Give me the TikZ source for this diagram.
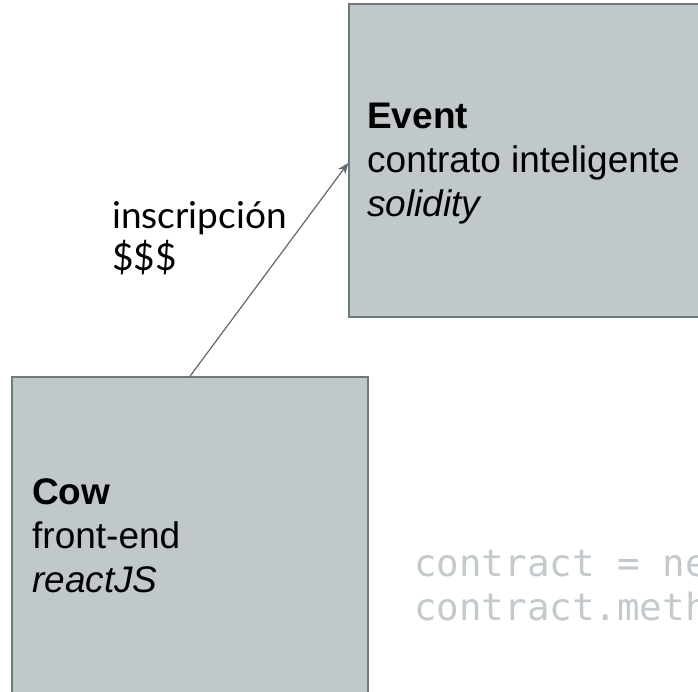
\documentclass[tikz,border=0pt]{standalone}
\usepackage{fontspec}
\setmainfont{Liberation Sans}
\newfontfamily\latofont{Lato}
\newfontfamily\codefont{DejaVu Sans Mono}
\usetikzlibrary{arrows.meta}
\definecolor{boxfill}{HTML}{C0C8CB}
\definecolor{boxline}{HTML}{6E7B7E}
\definecolor{arrowcol}{HTML}{5F6B6D}
\definecolor{codecol}{HTML}{C3CACD}
\tikzset{
  box/.style={draw=boxline, fill=boxfill, line width=1.6pt, minimum width=356pt, minimum height=313pt, inner sep=0pt},
  boxtext/.style={anchor=base west, align=left, inner sep=0pt, font=\fontsize{37}{44}\selectfont},
  label/.style={anchor=base west, align=left, inner sep=0pt, font=\latofont\fontsize{37}{42}\selectfont},
  code/.style={anchor=base west, align=left, inner sep=0pt, text=codecol, font=\codefont\fontsize{37.5}{44}\selectfont},
  conn/.style={draw=arrowcol, line width=1.2pt, -{Stealth[length=11pt,width=9pt]}}
}
\begin{document}
\begin{tikzpicture}[x=1pt,y=-1pt]
\useasboundingbox (0,0) rectangle (698,691);
\clip (0,0) rectangle (698,691);
\fill[white] (0,0) rectangle (698,691);
\node[box] (event) at (527,160.5) {};
\node[box, minimum height=340pt] (cow) at (190,547) {};
\node[boxtext] (eventtext) at (367,216) {\textbf{Event}\\contrato inteligente\\\textit{solidity}};
\node[boxtext] (cowtext) at (32,592) {\textbf{Cow}\\front-end\\\textit{reactJS}};
\node[label] (lab) at (112,270) {inscripción\\\$\$\$};
\node[code] (codetxt) at (414,620) {contract = new\\contract.method()};
\draw[conn] (cow.north) -- ([yshift=-2.5pt]event.west);
\end{tikzpicture}
\end{document}
